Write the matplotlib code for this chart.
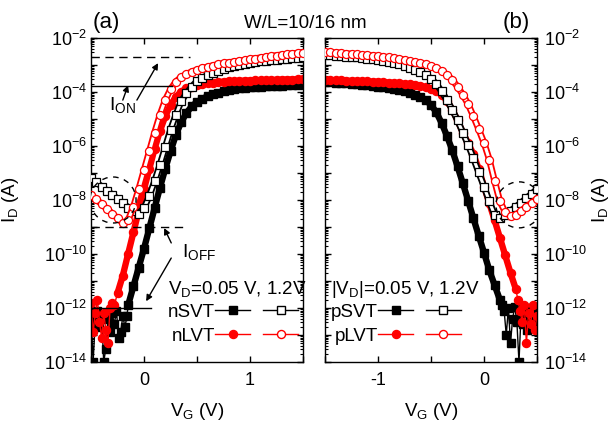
import numpy as np
import matplotlib
matplotlib.use('Agg')
import matplotlib.pyplot as plt
from matplotlib.ticker import LogLocator, MultipleLocator, FuncFormatter, NullFormatter
from matplotlib.patches import Ellipse
from matplotlib.lines import Line2D
from matplotlib.legend_handler import HandlerTuple

plt.rcParams.update({
    'font.family': ['Liberation Sans', 'DejaVu Sans'],
    'mathtext.fontset': 'custom',
    'mathtext.rm': 'Liberation Sans',
    'mathtext.it': 'Liberation Sans:italic',
    'mathtext.bf': 'Liberation Sans:bold',
    'axes.unicode_minus': False,
    'axes.linewidth': 1.0,
})

# ---------------- data (log10 of drain current, A) ----------------
# n-type panel: gate sweep
VG_N = np.linspace(-0.5, 1.5, 41)

nSVT_sat = [-7.2, -7.35, -7.5, -7.65, -7.8, -7.95, -8.1, -8.28, -8.42, -8.5,
            -8.3, -7.85, -7.3, -6.7, -6.05, -5.4, -4.85, -4.35, -4.05, -3.8,
            -3.6, -3.48, -3.38, -3.3, -3.22, -3.15, -3.09, -3.04, -3.0, -2.96,
            -2.93, -2.9, -2.87, -2.85, -2.83, -2.81, -2.79, -2.77, -2.75, -2.73, -2.71]

nLVT_sat = [-7.8, -7.98, -8.15, -8.33, -8.5, -8.68, -8.85, -8.75, -8.25, -7.6,
            -6.9, -6.2, -5.5, -4.85, -4.3, -3.9, -3.62, -3.45, -3.34, -3.25,
            -3.18, -3.12, -3.07, -3.02, -2.98, -2.94, -2.91, -2.88, -2.85, -2.82,
            -2.79, -2.76, -2.73, -2.7, -2.67, -2.65, -2.62, -2.6, -2.58, -2.56, -2.54]

nSVT_lin_noise_vg = np.linspace(-0.5, -0.16, 18)
nSVT_lin_noise = [-12.2, -14.0, -12.5, -12.1, -12.7, -12.3, -14.0, -13.5, -12.4,
                  -12.9, -12.2, -12.6, -12.1, -13.1, -12.9, -12.3, -12.7, -12.3]
nSVT_lin_vg = np.linspace(-0.15, 1.5, 34)
nSVT_lin = [-11.9, -11.2, -10.5, -9.8, -9.05, -8.3, -7.55, -6.85, -6.2, -5.6,
            -5.12, -4.78, -4.53, -4.37, -4.25, -4.16, -4.08, -4.02, -3.97, -3.93,
            -3.9, -3.87, -3.85, -3.83, -3.81, -3.8, -3.79, -3.78, -3.77, -3.76,
            -3.75, -3.74, -3.73, -3.72]

nLVT_lin_noise_vg = np.linspace(-0.5, -0.28, 12)
nLVT_lin_noise = [-11.8, -12.9, -12.2, -11.7, -12.5, -13.1, -12.2, -12.8, -13.3,
                  -12.0, -11.8, -11.9]
nLVT_lin_vg = np.linspace(-0.25, 1.5, 36)
nLVT_lin = [-11.45, -10.8, -10.0, -9.2, -8.4, -7.6, -6.85, -6.1, -5.45, -4.9,
            -4.48, -4.18, -3.99, -3.87, -3.8, -3.75, -3.71, -3.68, -3.66, -3.64,
            -3.62, -3.61, -3.6, -3.59, -3.58, -3.58, -3.57, -3.57, -3.56, -3.56,
            -3.55, -3.55, -3.54, -3.54, -3.53, -3.53]

# p-type panel
VG_P = np.linspace(-1.5, 0.5, 41)

pSVT_sat = [-2.63, -2.64, -2.66, -2.67, -2.69, -2.7, -2.72, -2.74, -2.76, -2.79,
            -2.82, -2.86, -2.9, -2.94, -2.98, -3.04, -3.1, -3.17, -3.26, -3.36,
            -3.5, -3.7, -3.98, -4.3, -4.65, -5.05, -5.5, -5.95, -6.45, -6.98,
            -7.5, -8.05, -8.55, -8.65, -8.55, -8.4, -8.25, -8.1, -7.93, -7.77, -7.6]

pLVT_sat = [-2.52, -2.53, -2.55, -2.56, -2.58, -2.59, -2.61, -2.63, -2.64, -2.66,
            -2.68, -2.7, -2.72, -2.75, -2.78, -2.81, -2.85, -2.89, -2.93, -2.98,
            -3.04, -3.12, -3.22, -3.36, -3.55, -3.8, -4.1, -4.45, -4.9, -5.38,
            -5.88, -6.5, -7.3, -8.05, -8.45, -8.6, -8.55, -8.4, -8.25, -8.1, -7.95]

pSVT_lin_vg = np.linspace(-1.5, 0.15, 34)
pSVT_lin = [-3.63, -3.64, -3.65, -3.66, -3.68, -3.69, -3.71, -3.73, -3.75, -3.77,
            -3.8, -3.83, -3.86, -3.89, -3.93, -3.97, -4.03, -4.1, -4.18, -4.3,
            -4.48, -4.75, -5.15, -5.62, -6.15, -6.75, -7.38, -8.02, -8.68, -9.32,
            -9.95, -10.6, -11.15, -11.7]
pSVT_lin_noise_vg = np.linspace(0.17, 0.49, 17)
pSVT_lin_noise = [-11.9, -12.1, -13.0, -12.0, -13.3, -12.4, -11.95, -12.5, -14.0,
                  -12.2, -12.6, -12.0, -12.8, -12.3, -12.0, -12.5, -12.2]

pLVT_lin_vg = np.linspace(-1.5, 0.3, 37)
pLVT_lin = [-3.55, -3.56, -3.57, -3.57, -3.58, -3.59, -3.6, -3.61, -3.61, -3.62,
            -3.63, -3.64, -3.65, -3.67, -3.68, -3.7, -3.72, -3.74, -3.77, -3.82,
            -3.88, -3.97, -4.1, -4.32, -4.65, -5.05, -5.5, -5.9, -6.3, -6.85,
            -7.5, -8.12, -8.75, -9.4, -10.05, -10.7, -11.3]
pLVT_lin_noise_vg = np.linspace(0.32, 0.5, 10)
pLVT_lin_noise = [-11.7, -12.1, -12.5, -11.9, -13.3, -12.2, -12.6, -11.9, -12.8, -12.3]

# reference levels (ION / IOFF guides) in panel (a)
ion_levels = [1.7e-4, 2e-3]
ion_xend = [0.26, 0.43]
ioff_levels = [1e-12, 1e-9]
ioff_xend = [0.07, 0.41]

BLACK = '#000000'
RED = '#ff0000'
MS = 5.8

fig = plt.figure(figsize=(6.12, 4.21), dpi=100)
W, H = 612.0, 421.0
ax1 = fig.add_axes([91 / W, 1 - 362 / H, 212 / W, 324 / H])
ax2 = fig.add_axes([325 / W, 1 - 362 / H, 212 / W, 324 / H])


def p10(a):
    return 10.0 ** np.asarray(a, dtype=float)


def plot_filled(ax, vg_parts, li_parts, curve_idx, color, marker):
    vg_all = np.concatenate([np.asarray(v, float) for v in vg_parts])
    li_all = np.concatenate([np.asarray(l, float) for l in li_parts])
    ax.plot(vg_parts[curve_idx], p10(li_parts[curve_idx]), color=color, lw=4.6,
            solid_capstyle='round', solid_joinstyle='round', zorder=2)
    ax.plot(vg_all, p10(li_all), color=color, lw=1.0, marker=marker, ms=MS,
            mfc=color, mec=color, zorder=2)


def plot_open(ax, vg, li, color, marker):
    ax.plot(vg, p10(li), color=color, lw=4.8, solid_capstyle='round', zorder=3)
    ax.plot(vg, p10(li), color='white', lw=2.2, solid_capstyle='round', zorder=3)
    ax.plot(vg, p10(li), color=color, lw=0, marker=marker, ms=MS, mfc='white',
            mec=color, mew=0.9, zorder=3)


# panel (a)
plot_filled(ax1, [nSVT_lin_noise_vg, nSVT_lin_vg], [nSVT_lin_noise, nSVT_lin], 1, BLACK, 's')
plot_open(ax1, VG_N, nSVT_sat, BLACK, 's')
plot_filled(ax1, [nLVT_lin_noise_vg, nLVT_lin_vg], [nLVT_lin_noise, nLVT_lin], 1, RED, 'o')
plot_open(ax1, VG_N, nLVT_sat, RED, 'o')

# panel (b)
plot_filled(ax2, [pSVT_lin_vg, pSVT_lin_noise_vg], [pSVT_lin, pSVT_lin_noise], 0, BLACK, 's')
plot_open(ax2, VG_P, pSVT_sat, BLACK, 's')
plot_filled(ax2, [pLVT_lin_vg, pLVT_lin_noise_vg], [pLVT_lin, pLVT_lin_noise], 0, RED, 'o')
plot_open(ax2, VG_P, pLVT_sat, RED, 'o')

# guide lines
for lvl, xe, ls in zip(ion_levels, ion_xend, ['-', (0, (6, 4))]):
    ax1.plot([-0.5, xe], [lvl, lvl], color='k', lw=1.0, ls=ls, zorder=5)
for lvl, xe, ls in zip(ioff_levels, ioff_xend, ['-', (0, (6, 4))]):
    ax1.plot([-0.5, xe], [lvl, lvl], color='k', lw=1.0, ls=ls, zorder=5)

arrow = dict(arrowstyle='-|>', color='k', lw=1.0, mutation_scale=9, shrinkA=0, shrinkB=0)
ax1.annotate('', xy=(-0.15, 10 ** -3.75), xytext=(-0.2, 10 ** -4.3), arrowprops=arrow, zorder=6)
ax1.annotate('', xy=(0.133, 10 ** -2.93), xytext=(-0.067, 10 ** -4.3), arrowprops=arrow, zorder=6)
ax1.annotate('', xy=(0.19, 10 ** -9.04), xytext=(0.257, 10 ** -9.59), arrowprops=arrow, zorder=6)
ax1.annotate('', xy=(0.02, 10 ** -11.75), xytext=(0.257, 10 ** -10.15), arrowprops=arrow, zorder=6)

ax1.text(0.085, 0.778, r'I$_\mathrm{ON}$', transform=ax1.transAxes, fontsize=14, va='baseline')
ax1.text(0.43, 0.324, r'I$_\mathrm{OFF}$', transform=ax1.transAxes, fontsize=14, va='baseline')
ax1.text(0.363, 0.21, r'V$_\mathrm{D}$=0.05 V, 1.2V', transform=ax1.transAxes, fontsize=13.5,
         va='baseline')
ax2.text(0.028, 0.21, r'|V$_\mathrm{D}$|=0.05 V, 1.2V', transform=ax2.transAxes, fontsize=13.5,
         va='baseline')

# dashed circles around GIDL regions
for ax, cx, cy in [(ax1, 0.104, 0.5), (ax2, 0.915, 0.485)]:
    e = Ellipse((cx, cy), 46 / 212, 46 / 324, transform=ax.transAxes, fill=False,
                ls=(0, (4, 4)), lw=1.0, ec='k', zorder=6)
    ax.add_patch(e)

# legends
def legend_for(ax, names, x, y):
    hs = []
    for color, mk in [(BLACK, 's'), (RED, 'o')]:
        hf = Line2D([], [], color=color, lw=1.0, marker=mk, ms=MS, mfc=color, mec=color)
        ho = Line2D([], [], color=color, lw=1.0, marker=mk, ms=MS, mfc='white', mec=color)
        hs.append((hf, ho))
    leg = ax.legend(hs, names, handler_map={tuple: HandlerTuple(ndivide=None, pad=0.66)},
                    loc='upper left', bbox_to_anchor=(x, y), frameon=False, markerfirst=False,
                    handlelength=4.45, handletextpad=0.0, borderpad=0, borderaxespad=0,
                    labelspacing=0.38, fontsize=13.5)
    return leg

legend_for(ax1, ['nSVT', 'nLVT'], 0.363, 0.18)
legend_for(ax2, ['pSVT', 'pLVT'], 0.028, 0.18)

# axes formatting
def yfmt(v, pos):
    e = int(round(np.log10(v)))
    return r'$\mathregular{10^{%d}}$' % e if e % 2 == 0 else ''

for ax, xl in [(ax1, (-0.5, 1.5)), (ax2, (-1.5, 0.5))]:
    ax.set_yscale('log')
    ax.set_ylim(1e-14, 1e-2)
    ax.set_xlim(*xl)
    ax.yaxis.set_major_locator(LogLocator(base=10, numticks=30))
    ax.yaxis.set_minor_locator(LogLocator(base=10, subs=np.arange(2, 10), numticks=30))
    ax.yaxis.set_major_formatter(FuncFormatter(yfmt))
    ax.yaxis.set_minor_formatter(NullFormatter())
    ax.xaxis.set_major_locator(MultipleLocator(1))
    ax.xaxis.set_minor_locator(MultipleLocator(0.5))
    ax.xaxis.set_major_formatter(FuncFormatter(lambda v, p: '%d' % round(v)))
    ax.tick_params(which='both', direction='in', top=True, right=True, labelsize=13)
    ax.tick_params(which='major', length=4, width=1.0)
    ax.tick_params(which='minor', length=2, width=0.8)
    ax.xaxis.set_tick_params(which='minor', length=4, width=1.0)
    ax.xaxis.set_tick_params(pad=7)
    ax.set_xlabel(r'V$_\mathrm{G}$ (V)', fontsize=13.5)
    ax.xaxis.set_label_coords(0.5, -0.12)

ax1.yaxis.set_tick_params(pad=3)
ax1.set_ylabel(r'I$_\mathrm{D}$ (A)', fontsize=13.5)
ax1.yaxis.set_label_coords(-0.33, 0.5)

ax2.tick_params(labelleft=False, labelright=True)
ax2.yaxis.set_tick_params(pad=5)
ax2.yaxis.set_label_position('right')
ax2.set_ylabel(r'I$_\mathrm{D}$ (A)', fontsize=13.5, rotation=90)
ax2.yaxis.set_label_coords(1.25, 0.5)

fig.text(93 / W, 1 - 28 / H, '(a)', fontsize=16, va='baseline')
fig.text(503 / W, 1 - 28 / H, '(b)', fontsize=16, va='baseline')
fig.text(305 / W, 1 - 28 / H, 'W/L=10/16 nm', fontsize=13.5, va='baseline', ha='center')

fig.savefig('out.png', dpi=100)
